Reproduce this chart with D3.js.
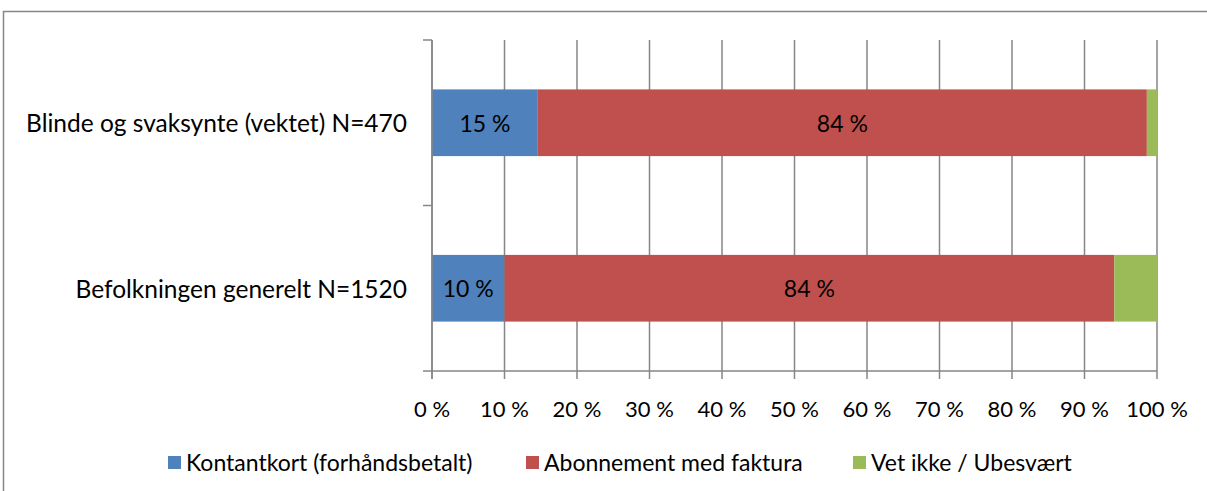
<!DOCTYPE html>
<html>
<head>
<meta charset="utf-8">
<script src="https://cdn.jsdelivr.net/npm/d3@7"></script>
<style>
	body { margin: 0; background: #fff; }
	svg { display: block; font-family: Lato, "Open Sans", sans-serif; }
</style>
</head>
<body>
<svg id="chart" width="1207" height="491"></svg>
<script>

// data
var categories	=	['Blinde og svaksynte (vektet) N=470', 'Befolkningen generelt N=1520'];
var seriesNames	=	['Kontantkort (forhåndsbetalt)', 'Abonnement med faktura', 'Vet ikke / Ubesvært'];
var kontantkort	=	[14.6, 10.0];
var abonnement	=	[84.0, 84.1];
var vetIkke		=	[1.4, 5.9];
var barLabels	=	[['15 %', '84 %', ''], ['10 %', '84 %', '']];
var xTicks		=	[0, 10, 20, 30, 40, 50, 60, 70, 80, 90, 100];

var colors	=	['#4F81BD', '#C0504D', '#9BBB59'];
var gridCol	=	'#868686';

var svg = d3.select('#chart');

// outer chart frame (only left and top visible)
svg.append('path')
.attr('d', 'M3.5,491 L3.5,11.5 L1207,11.5')
.attr('fill', 'none')
.attr('stroke', gridCol)
.attr('stroke-width', 1.5);

var plotLeft = 432, plotRight = 1157, plotTop = 40, plotBottom = 371;

var x = d3.scaleLinear().domain([0, 100]).range([plotLeft, plotRight]);
var y = d3.scaleBand().domain(categories).range([plotTop, plotBottom])
.paddingInner(0.597).paddingOuter(0.2985);

// vertical gridlines with ticks below axis
svg.append('g')
.selectAll('line')
.data(xTicks)
.enter().append('line')
.attr('x1', function(d) { return x(d); })
.attr('x2', function(d) { return x(d); })
.attr('y1', plotTop)
.attr('y2', plotBottom + 8)
.attr('stroke', gridCol)
.attr('stroke-width', 1.5);

// horizontal axis line
svg.append('line')
.attr('x1', plotLeft).attr('x2', plotRight)
.attr('y1', plotBottom).attr('y2', plotBottom)
.attr('stroke', gridCol).attr('stroke-width', 1.5);

// category boundary ticks on the vertical axis
var step = y.step();
var bounds = d3.range(categories.length + 1).map(function(i) { return plotTop + i * step; });
svg.append('g')
.selectAll('line')
.data(bounds)
.enter().append('line')
.attr('x1', plotLeft - 9).attr('x2', plotLeft)
.attr('y1', function(d) { return d; })
.attr('y2', function(d) { return d; })
.attr('stroke', gridCol).attr('stroke-width', 1.5);

// stacked bars
var rows = categories.map(function(c, i) {
	return { cat: c, values: [kontantkort[i], abonnement[i], vetIkke[i]], labels: barLabels[i] };
});
var stack = d3.stack().keys([0, 1, 2]).value(function(d, k) { return d.values[k]; });
var layers = stack(rows);

var g = svg.append('g');
layers.forEach(function(layer, k) {
	g.selectAll('rect.s' + k)
	.data(layer)
	.enter().append('rect')
	.attr('class', 's' + k)
	.attr('x', function(d) { return x(d[0]); })
	.attr('width', function(d) { return x(d[1]) - x(d[0]); })
	.attr('y', function(d) { return y(d.data.cat); })
	.attr('height', y.bandwidth())
	.attr('fill', colors[k]);
});
layers.forEach(function(layer, k) {
	g.selectAll('text.s' + k)
	.data(layer)
	.enter().append('text')
	.attr('class', 's' + k)
	.attr('x', function(d) { return (x(d[0]) + x(d[1])) / 2; })
	.attr('y', function(d) { return y(d.data.cat) + y.bandwidth() / 2; })
	.attr('text-anchor', 'middle')
	.attr('dominant-baseline', 'central')
	.attr('font-size', 23)
	.attr('fill', '#000')
	.text(function(d) { return d.data.labels[k]; });
});

// y axis line drawn over bars
svg.append('line')
.attr('x1', plotLeft).attr('x2', plotLeft)
.attr('y1', plotTop).attr('y2', plotBottom + 8)
.attr('stroke', gridCol).attr('stroke-width', 1.5);

// category labels
svg.append('g')
.selectAll('text')
.data(categories)
.enter().append('text')
.attr('x', plotLeft - 25)
.attr('y', function(d) { return y(d) + y.bandwidth() / 2; })
.attr('text-anchor', 'end')
.attr('dominant-baseline', 'central')
.attr('font-size', 24.5)
.attr('fill', '#000')
.text(function(d) { return d; });

// x tick labels
svg.append('g')
.selectAll('text')
.data(xTicks)
.enter().append('text')
.attr('x', function(d) { return x(d); })
.attr('y', 408)
.attr('text-anchor', 'middle')
.attr('dominant-baseline', 'central')
.attr('font-size', 22)
.attr('fill', '#000')
.text(function(d) { return d + ' %'; });

// legend
var legendX = [168, 526, 853];
var legend = svg.append('g')
.selectAll('g')
.data(seriesNames)
.enter().append('g')
.attr('transform', function(d, i) { return 'translate(' + legendX[i] + ',462)'; });

legend.append('rect')
.attr('x', 0).attr('y', -6)
.attr('width', 13).attr('height', 13)
.attr('fill', function(d, i) { return colors[i]; });

legend.append('text')
.attr('x', 18)
.attr('y', 0)
.attr('dominant-baseline', 'central')
.attr('font-size', 23)
.attr('fill', '#000')
.text(function(d) { return d; });

</script>
</body>
</html>
